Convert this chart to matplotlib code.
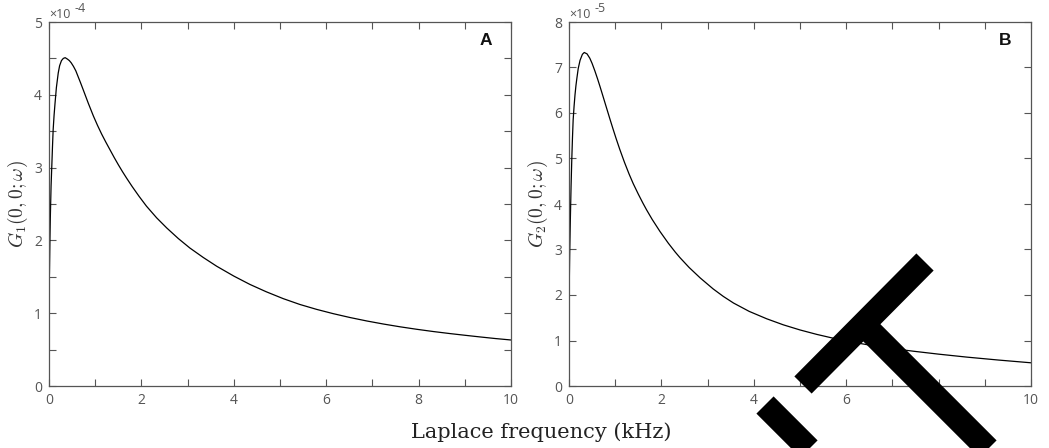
import matplotlib
matplotlib.use("Agg")
import matplotlib.pyplot as plt
from matplotlib.ticker import MultipleLocator, FuncFormatter
from matplotlib.transforms import Affine2D
from matplotlib.lines import Line2D

# Laplace frequency (kHz) and Green's function magnitudes
freq_g1 = [0.0, 0.01, 0.02, 0.03, 0.045, 0.06, 0.075, 0.09, 0.11, 0.13, 0.16, 0.20,
           0.23, 0.27, 0.31, 0.35, 0.40, 0.44, 0.48, 0.53, 0.58, 0.63, 0.68, 0.74,
           0.85, 0.96, 1.05, 1.14, 1.23, 1.32, 1.41, 1.50, 1.59, 1.68, 1.80, 1.95,
           2.11, 2.33, 2.55, 2.80, 3.05, 3.34, 3.63, 4.00, 4.35, 4.70, 5.07, 5.43,
           5.79, 6.15, 6.52, 6.88, 7.24, 7.60, 7.96, 8.32, 8.68, 9.00, 9.33, 9.66, 10.0]
g1_values = [1.40, 1.55, 2.00, 2.35, 2.75, 3.01, 3.28, 3.52, 3.72, 3.88, 4.10, 4.30,
             4.40, 4.47, 4.50, 4.51, 4.49, 4.47, 4.44, 4.39, 4.33, 4.25, 4.17, 4.07,
             3.885, 3.71, 3.58, 3.46, 3.35, 3.245, 3.14, 3.04, 2.945, 2.855, 2.74, 2.605,
             2.47, 2.31, 2.17, 2.025, 1.895, 1.765, 1.645, 1.51, 1.395, 1.295, 1.20, 1.12,
             1.053, 0.994, 0.94, 0.893, 0.851, 0.813, 0.779, 0.748, 0.72, 0.697, 0.674,
             0.652, 0.632]

freq_g2 = [0.0, 0.015, 0.03, 0.045, 0.06, 0.075, 0.09, 0.11, 0.13, 0.15, 0.17, 0.20,
           0.24, 0.29, 0.33, 0.39, 0.45, 0.50, 0.56, 0.62, 0.67, 0.73, 0.78, 0.84,
           0.89, 0.95, 1.02, 1.10, 1.20, 1.30, 1.39, 1.50, 1.60, 1.68, 1.80, 1.97,
           2.15, 2.30, 2.40, 2.60, 2.84, 3.12, 3.34, 3.56, 3.90, 4.28, 4.64, 5.00,
           5.36, 5.72, 6.10, 6.50, 6.95, 7.45, 8.00, 8.61, 9.30, 10.0]
g2_values = [1.82, 2.90, 3.70, 4.40, 4.97, 5.45, 5.85, 6.15, 6.40, 6.60, 6.76, 6.98,
             7.16, 7.29, 7.33, 7.30, 7.205, 7.09, 6.925, 6.745, 6.585, 6.387, 6.22, 6.02,
             5.854, 5.659, 5.438, 5.198, 4.918, 4.66, 4.448, 4.217, 4.019, 3.87, 3.662,
             3.395, 3.138, 2.943, 2.823, 2.605, 2.375, 2.134, 1.969, 1.824, 1.640, 1.477,
             1.344, 1.232, 1.135, 1.05, 0.97, 0.90, 0.83, 0.765, 0.70, 0.635, 0.57, 0.51]

panels = [
    dict(x=freq_g1, y=g1_values, ylim=5, ystep=0.5, exp="-4",
         ylabel=r"$G_1(0,0;\omega)$", tag="A"),
    dict(x=freq_g2, y=g2_values, ylim=8, ystep=1.0, exp="-5",
         ylabel=r"$G_2(0,0;\omega)$", tag="B"),
]
xlabel = "Laplace frequency (kHz)"

W, H = 1049, 448
plt.rcParams["mathtext.fontset"] = "cm"
fig = plt.figure(figsize=(W / 100, H / 100), dpi=100)

axis_grey = "#555555"
tick_font = "Open Sans"
boxes = [(49, 511), (569, 1031)]
top_px, bottom_px = 22, 386

for (left, right), p in zip(boxes, panels):
    ax = fig.add_axes([left / W, (H - bottom_px) / H,
                       (right - left) / W, (bottom_px - top_px) / H])
    ax.plot(p["x"], p["y"], color="black", lw=0.9)
    ax.set_xlim(0, 10)
    ax.set_ylim(0, p["ylim"])
    ax.xaxis.set_major_locator(MultipleLocator(1))
    ax.yaxis.set_major_locator(MultipleLocator(p["ystep"]))
    ax.xaxis.set_major_formatter(
        FuncFormatter(lambda v, pos: f"{v:.0f}" if round(v) % 2 == 0 else ""))
    ax.yaxis.set_major_formatter(
        FuncFormatter(lambda v, pos: f"{v:.0f}" if abs(v - round(v)) < 1e-6 else ""))
    ax.tick_params(direction="in", length=5, width=0.8, colors=axis_grey,
                   top=True, right=True, labelsize=10, pad=5)
    for lab in ax.get_xticklabels() + ax.get_yticklabels():
        lab.set_fontfamily(tick_font)
    for s in ax.spines.values():
        s.set_color(axis_grey)
        s.set_linewidth(0.9)
    ax.text(0.0, 1.004, "\u00d710", transform=ax.transAxes, ha="left", va="bottom",
            fontsize=9, color=axis_grey, family=tick_font)
    ax.annotate(p["exp"], xy=(0.0, 1.004), xycoords="axes fraction",
                xytext=(18.5, 4), textcoords="offset points", ha="left", va="bottom",
                fontsize=9, color=axis_grey, family=tick_font)
    ax.set_ylabel(p["ylabel"], fontsize=14, color="#333333", labelpad=3)
    ax.text(0.945, 0.948, p["tag"], transform=ax.transAxes, ha="center", va="center",
            fontsize=12.5, fontweight="bold", family="Liberation Sans", color="#111111")

fig.text(541 / W, 1 - 432 / H, xlabel, ha="center", va="center",
         fontsize=15, family="DejaVu Serif", color="#222222")

# black stamp drawn over the right panel, in pixel coordinates from the top-left
px = Affine2D().scale(1 / W, -1 / H).translate(0, 1) + fig.transFigure
stamp = [
    ((803, 385), (925, 262)),
    ((864, 325), (1005, 466)),
    ((765, 405), (827, 467)),
]
for (x0, y0), (x1, y1) in stamp:
    fig.add_artist(Line2D([x0, x1], [y0, y1], transform=px, color="black",
                          lw=17.5, solid_capstyle="butt"))

fig.savefig("out.png", dpi=100)
